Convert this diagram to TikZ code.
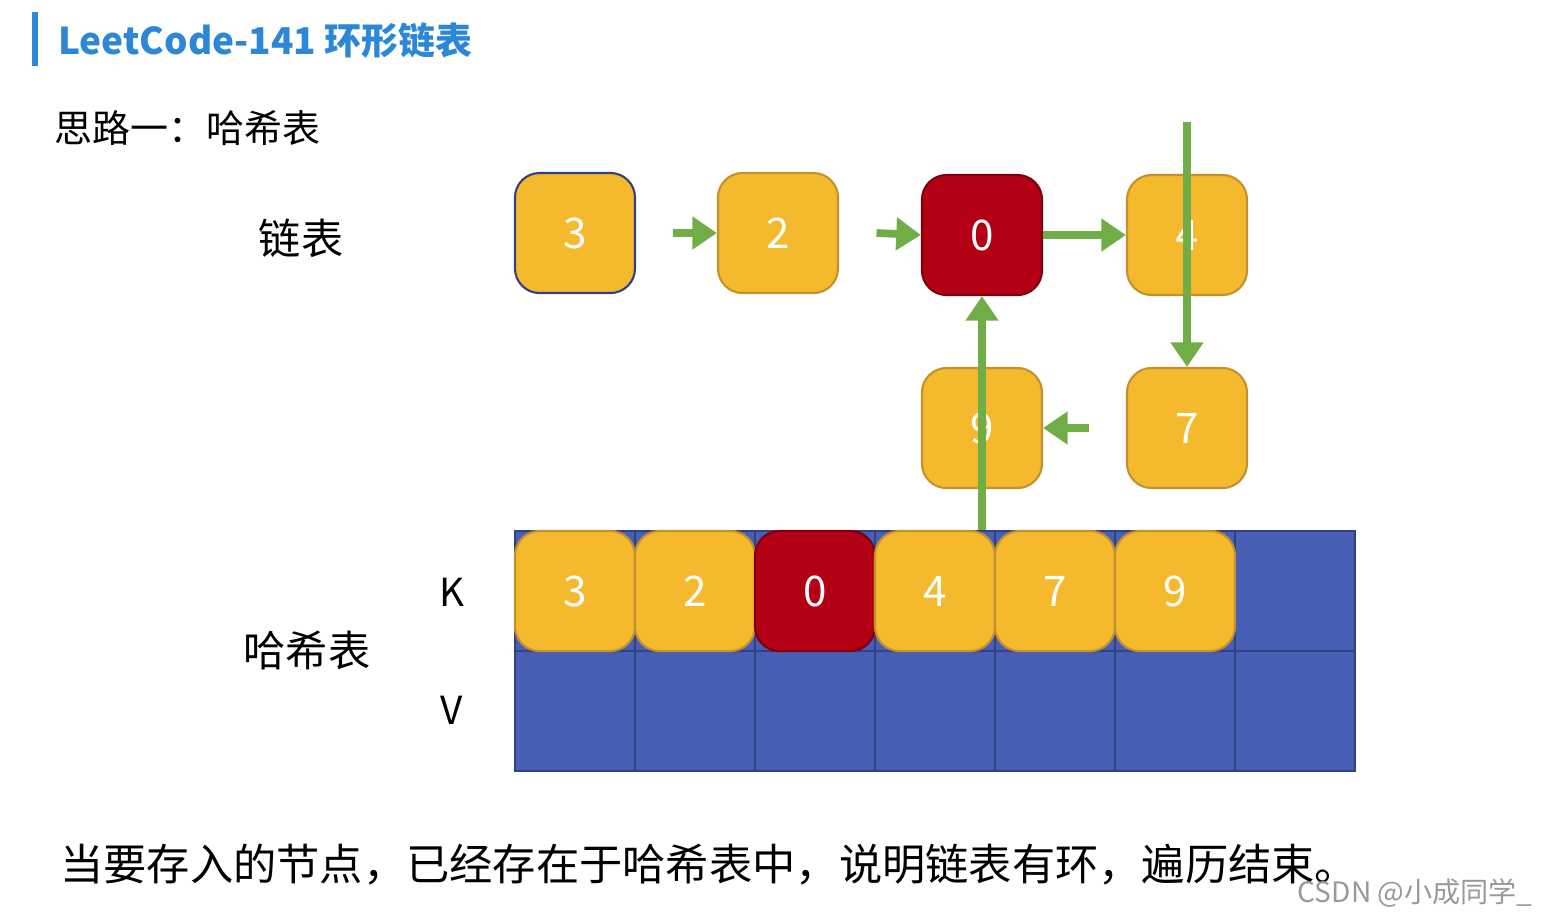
\documentclass[tikz,border=0pt]{standalone}
\usepackage{fontspec}
\setmainfont{Noto Sans CJK SC}
\usetikzlibrary{arrows.meta,positioning}
\definecolor{ttblue}{RGB}{45,135,215}
\definecolor{ndorange}{RGB}{245,185,45}
\definecolor{ndedge}{RGB}{195,145,45}
\definecolor{ndred}{RGB}{180,0,20}
\definecolor{arrgreen}{RGB}{112,173,71}
\definecolor{tblblue}{RGB}{70,95,180}
\definecolor{tblline}{RGB}{50,65,130}

\tikzset{
  box/.style={draw=ndedge, fill=ndorange, rounded corners=7pt, minimum size=1.2cm,
    inner sep=0pt, text=white, font=\fontsize{12}{14}\selectfont, line width=0.6pt},
  hitbox/.style={box, fill=ndred, draw=ndred!70!black},
  link/.style={arrgreen, line width=2.2pt, -{Triangle[length=7pt,width=9pt]}},
  label/.style={font=\fontsize{12}{14}\selectfont}
}

\begin{document}
\begin{tikzpicture}[x=0.01cm,y=-0.01cm]
\useasboundingbox (0,0) rectangle (1557,917);
% Title
\fill[ttblue] (32,12) rectangle (38,66);
\node[anchor=west, text=ttblue, font=\fontsize{10.5}{12}\selectfont\bfseries] (title) at (46,41) {LeetCode-141 环形链表};
\node[anchor=west, font=\fontsize{10.8}{12}\selectfont] (idea) at (42,128) {思路一：哈希表};
% Linked list
\node[label] (lbllist) at (301,238) {链表};
\node[box, draw=tblline] (n3) at (575,233) {3};
\node[box] (n2) at (778,233) {2};
\node[hitbox] (n0) at (982,235) {0};
\node[box] (n4) at (1187,235) {4};
\node[box] (n7) at (1187,428) {7};
\node[box] (n9) at (982,428) {9};
\draw[link] ([xshift=28]n3.center) -- (n2.west);
\draw[link] ([xshift=28]n2.center) -- (n0.west);
\draw[link] (n0.east) -- (n4.west);
\draw[link] ([yshift=32]n4.center) -- (n7.north);
\draw[link] ([xshift=-28]n7.center) -- (n9.east);
\draw[link] ([yshift=-32]n9.center) -- (n0.south);
% Hash table
\node[label] (lblhash) at (307,650) {哈希表};
\node[font=\fontsize{11}{13}\selectfont] (keyK) at (452,592) {K};
\node[font=\fontsize{11}{13}\selectfont] (keyV) at (452,710) {V};
\fill[tblblue] (515,531) rectangle (1355,771);
\foreach \i in {1,...,6} \draw[tblline] (515+\i*120,531) -- (515+\i*120,771);
\draw[tblline] (515,651) -- (1355,651);
\draw[tblline, line width=0.8pt] (515,531) rectangle (1355,771);
\foreach \v [count=\i from 0] in {3,2,0,4,7,9} {
  \ifnum\v=0
    \node[hitbox] (k\i) at (575+\i*120,591) {\v};
  \else
    \node[box] (k\i) at (575+\i*120,591) {\v};
  \fi
}
% Conclusion
\node[anchor=west, font=\fontsize{12.3}{14}\selectfont] (concl) at (48,865) {当要存入的节点，已经存在于哈希表中，说明链表有环，遍历结束。};
\node[anchor=east, text=black!40, font=\fontsize{8}{10}\selectfont] (mark) at (1545,893) {CSDN @小成同学\_};
\end{tikzpicture}
\end{document}
